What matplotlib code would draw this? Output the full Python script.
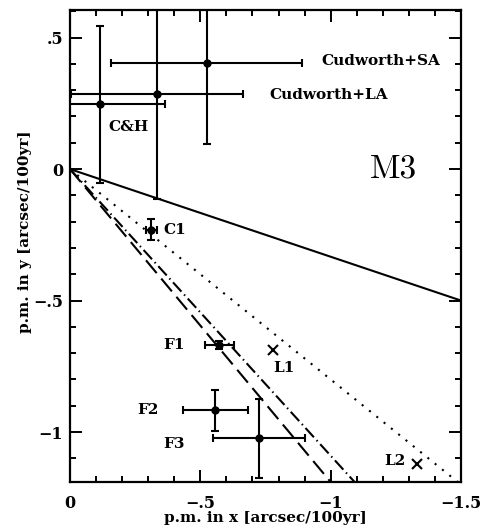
import numpy as np
import matplotlib
matplotlib.use("Agg")
import matplotlib.pyplot as plt
from matplotlib.ticker import MultipleLocator, FixedLocator

# ---- data ----
names = ["C&H", "Cudworth+LA", "Cudworth+SA", "C1", "F1", "F2", "F3"]
pm_x = [-0.115, -0.335, -0.524, -0.312, -0.573, -0.557, -0.725]
pm_y = [0.246, 0.285, 0.405, -0.230, -0.668, -0.918, -1.023]
err_x = [0.25, 0.33, 0.365, 0.02, 0.057, 0.125, 0.177]
err_y = [0.30, 0.40, 0.31, 0.04, 0.015, 0.078, 0.15]

cross_names = ["L1", "L2"]
cross_x = [-0.78, -1.332]
cross_y = [-0.687, -1.123]

line_slopes = [1 / 3, 0.80, 1.19, 1.09]   # y = slope * x through origin
line_styles = ["-", (0, (1, 3.5)), (0, (8, 3.4)), (0, (6, 1.9, 0.7, 1.9))]

label_pos = {
    "C&H": (-0.146, 0.161, "left"),
    "Cudworth+LA": (-0.766, 0.282, "left"),
    "Cudworth+SA": (-0.965, 0.41, "left"),
    "C1": (-0.36, -0.23, "left"),
    "F1": (-0.40, -0.668, "center"),
    "F2": (-0.30, -0.918, "center"),
    "F3": (-0.40, -1.047, "center"),
    "L1": (-0.82, -0.758, "center"),
    "L2": (-1.248, -1.112, "center"),
}

x_ticks = [0, -0.5, -1, -1.5]
x_ticklabels = ["0", "\u2212.5", "\u22121", "\u22121.5"]
y_ticks = [0.5, 0, -0.5, -1]
y_ticklabels = [".5", "0", "\u2212.5", "\u22121"]

# ---- figure ----
fig = plt.figure(figsize=(4.89, 5.31), dpi=100)
ax = fig.add_axes([70 / 489, 1 - 482 / 531, 391 / 489, 472 / 531])
ax.set_xlim(0, -1.5)
ax.set_ylim(-1.19, 0.605)

bold = dict(family="DejaVu Serif", fontweight="bold")

xs = np.array([0.0, -2.0])
for s, ls in zip(line_slopes, line_styles):
    ax.plot(xs, s * xs, color="black", lw=1.5, linestyle=ls)

for n, x, y, ex, ey in zip(names, pm_x, pm_y, err_x, err_y):
    ax.errorbar(x, y, xerr=ex, yerr=ey, fmt="o", color="black", ms=5,
                elinewidth=1.5, capsize=3, capthick=1.5)

ax.plot(cross_x, cross_y, "x", color="black", ms=7, mew=1.5, ls="none")

for key, (tx, ty, ha) in label_pos.items():
    ax.text(tx, ty, key, ha=ha, va="center", fontsize=11, **bold)

ax.text(-1.151, 0.0, "M3", ha="left", va="center", fontsize=24, family="cmr10")

ax.xaxis.set_major_locator(FixedLocator(x_ticks))
ax.set_xticklabels(x_ticklabels, fontsize=11.5, **bold)
ax.yaxis.set_major_locator(FixedLocator(y_ticks))
ax.set_yticklabels(y_ticklabels, fontsize=11.5, **bold)
ax.xaxis.set_minor_locator(MultipleLocator(0.1))
ax.yaxis.set_minor_locator(MultipleLocator(0.1))
ax.tick_params(which="both", direction="in", top=True, right=True, width=1.4)
ax.tick_params(which="major", length=8.6)
ax.tick_params(axis="x", which="major", pad=9)
ax.tick_params(axis="y", which="major", pad=5)
ax.tick_params(which="minor", length=4.3)
for sp in ax.spines.values():
    sp.set_linewidth(1.6)

ax.set_xlabel("p.m. in x [arcsec/100yr]", fontsize=11, **bold)
ax.set_ylabel("p.m. in y [arcsec/100yr]", fontsize=11, **bold)
ax.xaxis.set_label_coords(0.5, -0.062)
ax.yaxis.set_label_coords(-0.098, 0.531)

fig.savefig("out.png", dpi=100)
